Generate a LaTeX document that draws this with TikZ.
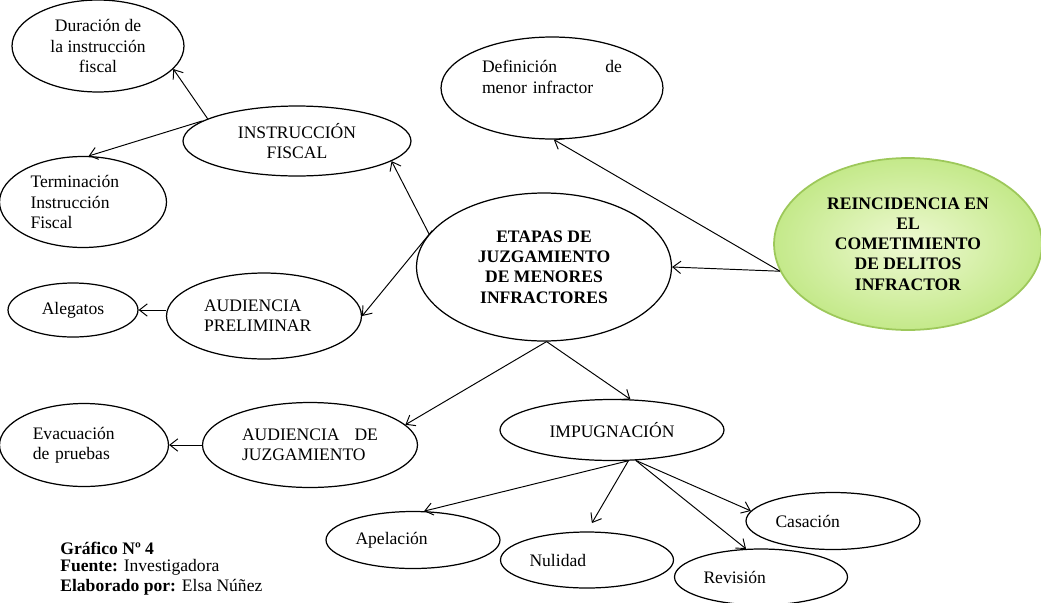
\documentclass[tikz,border=0pt]{standalone}
\usepackage{fontspec}
\setmainfont{Liberation Serif}
\usetikzlibrary{arrows.meta,shapes.geometric}
\definecolor{limein}{HTML}{EEF9D2}
\definecolor{limeout}{HTML}{C4E98A}
\definecolor{limeedge}{HTML}{9DC85A}
\tikzset{
  bubble/.style={
    ellipse, draw=black, line width=0.7pt, inner sep=0pt,
    font=\fontsize{10}{11.5}\selectfont, align=center
  },
  leftbubble/.style={bubble, align=left, text width=#1},
  leftbubble/.default=2.3cm,
  keybubble/.style={bubble,
    font=\fontsize{10}{11.5}\selectfont\bfseries},
  goalbubble/.style={keybubble, draw=limeedge, line width=1pt,
    inner color=limein, outer color=limeout},
  link/.style={-{Straight Barb[length=4.5pt,width=7pt]}, line width=0.55pt},
  notetext/.style={anchor=west, inner sep=0pt,
    font=\fontsize{10}{11.5}\selectfont}
}
\begin{document}
\begin{tikzpicture}[x=0.02cm, y=-0.02cm]
\useasboundingbox (0,0) rectangle (1041,602);
% nodos principales
\node[keybubble, minimum width=5.10cm, minimum height=2.96cm] (etapas) at (544,267)
  {ETAPAS DE\\JUZGAMIENTO\\DE MENORES\\INFRACTORES};
\node[goalbubble, minimum width=5.36cm, minimum height=3.44cm] (reinc) at (908,244)
  {REINCIDENCIA EN\\EL\\COMETIMIENTO\\DE DELITOS\\INFRACTOR};
\node[leftbubble=2.8cm, minimum width=4.44cm, minimum height=2.04cm] (defin) at (552,88)
  {Definición \hfill de\\menor infractor\rule[-0.45cm]{0pt}{0pt}};
% etapas
\node[bubble, minimum width=4.56cm, minimum height=1.40cm] (instr) at (297,141)
  {INSTRUCCIÓN\\FISCAL};
\node[leftbubble=2.4cm, minimum width=3.90cm, minimum height=1.72cm] (audprel) at (264,316)
  {AUDIENCIA\\PRELIMINAR};
\node[leftbubble=2.72cm, minimum width=4.30cm, minimum height=1.70cm] (audjuz) at (310,445)
  {AUDIENCIA \hfill DE\\JUZGAMIENTO};
\node[bubble, minimum width=4.48cm, minimum height=1.22cm] (impug) at (612,430)
  {IMPUGNACIÓN};
% subetapas
\node[bubble, minimum width=3.44cm, minimum height=1.84cm] (durac) at (98,46)
  {Duración de\\la instrucción\\fiscal};
\node[leftbubble=2.1cm, minimum width=3.34cm, minimum height=1.82cm] (termin) at (83,202)
  {Terminación\\Instrucción\\Fiscal};
\node[bubble, minimum width=2.60cm, minimum height=1.08cm] (alegatos) at (73,310)
  {Alegatos};
\node[leftbubble=2.05cm, minimum width=3.38cm, minimum height=1.66cm] (evac) at (84,445)
  {Evacuación\\de pruebas};
\node[leftbubble, minimum width=3.48cm, minimum height=1.14cm] (apel) at (413,540)
  {Apelación};
\node[leftbubble, minimum width=3.46cm, minimum height=1.12cm] (nul) at (587,560)
  {Nulidad};
\node[leftbubble, minimum width=3.48cm, minimum height=1.14cm] (casac) at (833,521)
  {Casación};
\node[leftbubble, minimum width=3.46cm, minimum height=1.12cm] (revis) at (761,577)
  {Revisión};
% conectores
\draw[link] (reinc.192) -- (etapas.east);
\draw[link] (reinc.192) -- (defin.-88);
\draw[link] (etapas.164) -- (instr.-12);
\draw[link] (etapas.162) -- (audprel.east);
\draw[link] (etapas.-88) -- (audjuz.12);
\draw[link] (etapas.-88) -- (impug.59);
\draw[link] (instr.166) -- (durac.-17);
\draw[link] (instr.168) -- (termin.83);
\draw[link] (audprel.west |- alegatos.east) -- (alegatos.east);
\draw[link] (audjuz.west) -- (evac.east);
\draw[link] (impug.-62) -- (apel.69);
\draw[link, shorten >=5.5pt] (impug.-62) -- (nul.north);
\draw[link] (impug.-52) -- (revis.118);
\draw[link] (impug.-52) -- (casac.173);
% pie
\node[notetext] (grafico) at (60,548) {\textbf{Gráfico Nº 4}};
\node[notetext] (fuente) at (60,567) {\textbf{Fuente:} Investigadora};
\node[notetext] (autor) at (60,587) {\textbf{Elaborado por:} Elsa Núñez};
\end{tikzpicture}
\end{document}
